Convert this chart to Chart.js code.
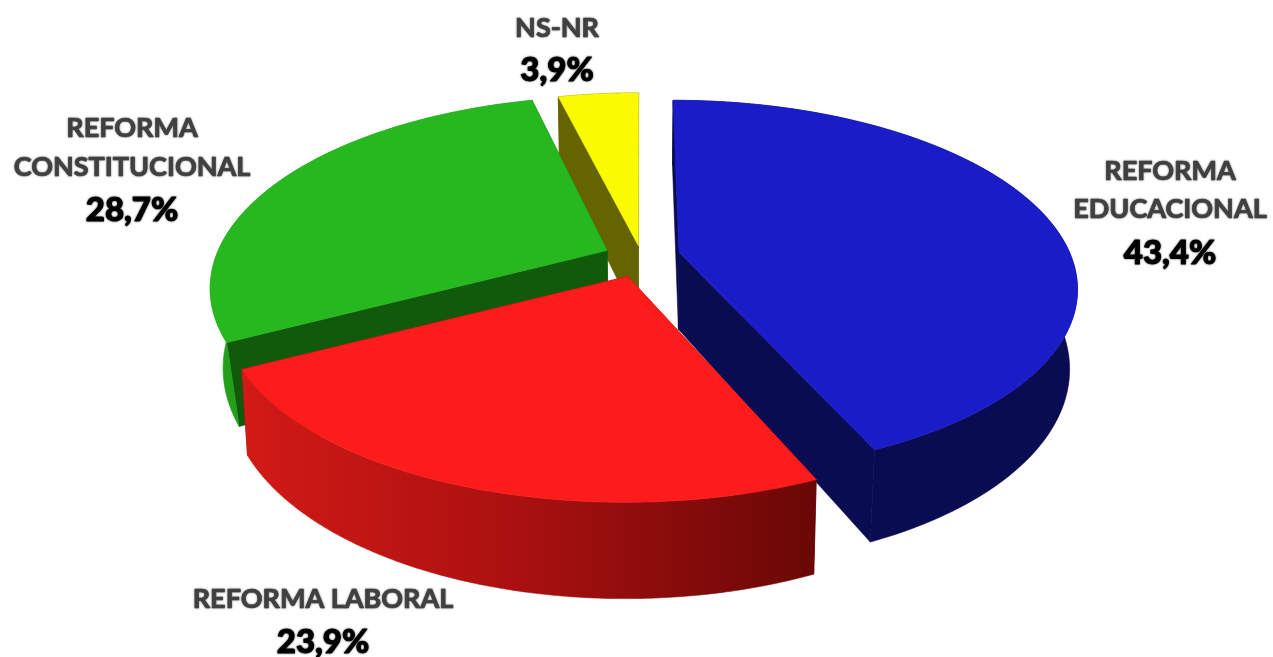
<!DOCTYPE html>
<html><head><meta charset="utf-8">
<style>html,body{margin:0;padding:0;background:#fff;overflow:hidden}canvas{display:block}</style>
<script src="https://cdn.jsdelivr.net/npm/chart.js@4"></script>
</head><body><canvas id="c" width="1273" height="657"></canvas>
<script>
const categories = [["REFORMA","EDUCACIONAL"],["REFORMA LABORAL"],["REFORMA","CONSTITUCIONAL"],["NS-NR"]];
const values = [43.4, 23.9, 28.7, 3.9];
const topColors = ["#1a1cc8","#fc1c1c","#26b81e","#fafa00"];
const sideColors = ["#090c50","#8a0c0a","#125a0b","#656400"];
const rimColors = ["#090c50",null,"#22a01a","#656400"];
const explode = [39, 36, 34, 14];
const sliceScaleX = [0.995, 0.988, 0.993, 1];
const sliceScaleY = [0.98, 0.96, 1, 1];
const sliceShrink = [0.018, 0.014, 0.03, 0.014];
const sliceNudge = [[1,2],[0,6],[-2,3],[0,-2]];
const labelAnchors = [[1170,171,38,44],[323,599,0,43],[132,128,39,43],[557,28,0,42]];
const drawOrder = [3,2,0,1];
const PIE = {cx:640, cy:254, R:393, k:0.468, p:0.186, D:77};

function proj(u,v,z,shrink){
  const s = 1/(1-PIE.p*v);
  return {x: PIE.cx + PIE.R*u*s*(1-shrink*z), y: PIE.cy + PIE.R*PIE.k*v*s + PIE.D*s*z};
}
function poly(ctx,pts,fill){
  ctx.beginPath();
  pts.forEach((p,i)=> i? ctx.lineTo(p.x,p.y) : ctx.moveTo(p.x,p.y));
  ctx.closePath();
  ctx.fillStyle = fill; ctx.fill();
  ctx.strokeStyle = fill; ctx.lineWidth = 0.6; ctx.stroke();
}
const piePlugin = {
  id:'pie3d',
  beforeDatasetsDraw(chart){
    const ctx = chart.ctx, arcs = chart.getDatasetMeta(0).data;
    ctx.save();
    drawOrder.forEach(i=>{
      const el = arcs[i], a0 = el.startAngle, a1 = el.endAngle, mid = (a0+a1)/2;
      const e = explode[i]/PIE.R, sh = sliceShrink[i];
      const ou = e*Math.cos(mid) + sliceNudge[i][0]/PIE.R, ov = e*Math.sin(mid) + sliceNudge[i][1]/(PIE.R*PIE.k);
      const N = 160, rim = [];
      for(let n=0;n<=N;n++){const a=a0+(a1-a0)*n/N; rim.push([ou+sliceScaleX[i]*Math.cos(a), ov+sliceScaleY[i]*Math.sin(a)]);}
      const P = z => rim.map(q=>proj(q[0],q[1],z,sh));
      const top = P(0), bot = P(1), c0 = proj(ou,ov,0,sh), c1 = proj(ou,ov,1,sh);
      poly(ctx,[c0,top[0],bot[0],c1],sideColors[i]);
      poly(ctx,[c0,top[N],bot[N],c1],sideColors[i]);
      let rimFill = rimColors[i];
      if(!rimFill){
        const g = ctx.createLinearGradient(top[N].x,0,top[0].x,0);
        g.addColorStop(0,"#d21a16"); g.addColorStop(0.5,"#a81010"); g.addColorStop(1,"#680806");
        rimFill = g;
      }
      poly(ctx,top.concat(bot.slice().reverse()),rimFill);
      poly(ctx,[c0].concat(top),topColors[i]);
    });
    ctx.textAlign='center'; ctx.textBaseline='middle'; ctx.lineJoin='round';
    values.forEach((val,i)=>{
      const [x,y,lh,gap] = labelAnchors[i], lines = categories[i];
      ctx.font='bold 27px Lato, sans-serif'; ctx.fillStyle='#404040'; ctx.strokeStyle='#404040'; ctx.lineWidth=0.7;
      ctx.shadowColor='rgba(60,60,60,.7)'; ctx.shadowBlur=2;
      lines.forEach((t,j)=>{ctx.fillText(t,x,y+j*lh);ctx.strokeText(t,x,y+j*lh);});
      ctx.font='900 33px Lato, sans-serif'; ctx.fillStyle='#000'; ctx.strokeStyle='#000'; ctx.lineWidth=1;
      ctx.shadowColor='rgba(0,0,0,.6)'; ctx.shadowBlur=2;
      const t=val.toFixed(1).replace('.',',')+'%', py=y+(lines.length-1)*lh+gap;
      ctx.fillText(t,x,py); ctx.strokeText(t,x,py);
      ctx.shadowBlur=0;
    });
    ctx.restore();
    return false;
  }
};
new Chart(document.getElementById('c'),{
  type:'pie',
  data:{labels:categories.map(l=>l.join(' ')),datasets:[{data:values,backgroundColor:topColors,borderWidth:0}]},
  options:{responsive:false,animation:false,rotation:0,
    plugins:{legend:{display:false},tooltip:{enabled:false}}},
  plugins:[piePlugin]
});
</script></body></html>
